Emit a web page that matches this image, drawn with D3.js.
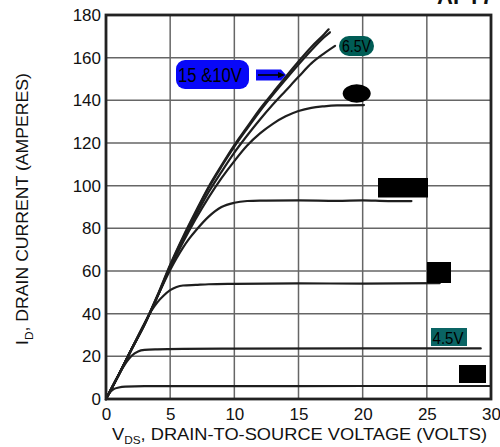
<!DOCTYPE html>
<html>
<head>
<meta charset="utf-8">
<script src="https://cdn.jsdelivr.net/npm/d3@7"></script>
<style>
  html, body { margin: 0; padding: 0; background: #fff; }
  svg { display: block; font-family: "Liberation Sans", Arial, Helvetica, sans-serif; }
</style>
</head>
<body>
<svg id="chart" width="500" height="447"></svg>
<script>
// ---- Data (V_DS in volts, I_D in amperes) ----
const xTicks = [0, 5, 10, 15, 20, 25, 30];
const yTicks = [0, 20, 40, 60, 80, 100, 120, 140, 160, 180];

const curve15V = [[0,0],[1,11.5],[2,23.5],[3,35],[4,48.5],[5,63],[6,76],[7,88],[8,99.5],[9,109.5],[10,119],[11,127.5],[12,136],[13,143.5],[14,151],[15,158.2],[16,165],[17,171],[17.35,173.3]];
const curve10V = [[0,0],[1,11.3],[2,23.2],[3,34.8],[4,48],[5,62.5],[6,75.5],[7,87.5],[8,99],[9,109],[10,118.3],[11,126.8],[12,135],[13,142.6],[14,149.8],[15,156.8],[16,163.5],[17,169.6],[17.45,171.9]];
const curve6p5V = [[0,0],[1,11.5],[2,23.5],[3,35],[4,48],[5,62],[6,74.5],[7,86],[8,97],[9,106.5],[10,115.5],[11,123.5],[12,131],[13,138],[14,144.5],[15,151],[16,157.3],[17,162],[17.85,165.5]];
const curve6V = [[0,0],[1,11.5],[2,23.5],[3,35],[4,48],[5,61.5],[6,73.5],[7,84.5],[8,94.5],[9,103.5],[10,111.5],[11,118.8],[12,124.5],[13,129],[14,132.5],[15,135],[16,136.5],[17,137.2],[18,137.6],[20.1,137.8]];
const curve5p5V = [[0,0],[1,11.5],[2,23.5],[3,35],[4,48],[5,60.5],[5.5,66],[6,71],[6.5,75.3],[7,79],[8,85.5],[9,90],[10,92],[11,92.8],[12,93],[15,93.1],[18,92.9],[20,93.1],[22,92.8],[23.8,92.8]];
const curve5V = [[0,0],[1,11.5],[2,23.5],[3,35.5],[3.5,41],[4,45.3],[4.5,48.5],[5,51],[5.5,52.5],[6,53.2],[7,53.5],[8,53.8],[10,54],[15,54.2],[20,54.1],[26,54.3]];
const curve4p5V = [[0,0],[0.5,6],[1,11.5],[1.5,16.5],[2,20.3],[2.5,22.3],[3,23],[4,23.3],[6,23.5],[10,23.6],[20,23.7],[29.2,23.7]];
const curve4V = [[0,0],[0.3,3],[0.6,4.6],[1,5.4],[1.5,5.8],[3,6],[10,6],[20,6.1],[30,6.1]];

const seriesList = [curve4V, curve4p5V, curve5V, curve5p5V, curve6V, curve6p5V, curve10V, curve15V];

// ---- Layout ----
const svg = d3.select("#chart");
const x = d3.scaleLinear().domain([0, 30]).range([106, 491]);
const y = d3.scaleLinear().domain([0, 180]).range([399, 15]);

// Grid
const grid = svg.append("g");
grid.selectAll("line.v").data(xTicks.slice(1, -1)).join("line")
  .attr("x1", d => x(d)).attr("x2", d => x(d))
  .attr("y1", y(0)).attr("y2", y(180))
  .attr("stroke", "#666").attr("stroke-width", 1.5);
grid.selectAll("line.h").data(yTicks.slice(1, -1)).join("line")
  .attr("x1", x(0)).attr("x2", x(30))
  .attr("y1", d => y(d)).attr("y2", d => y(d))
  .attr("stroke", "#666").attr("stroke-width", 1.5);

// Curves
const line = d3.line().x(d => x(d[0])).y(d => y(d[1])).curve(d3.curveMonotoneX);
svg.append("g").selectAll("path").data(seriesList).join("path")
  .attr("d", line)
  .attr("fill", "none")
  .attr("stroke", "#1e1e1e")
  .attr("stroke-width", 2.2)
  .attr("stroke-linecap", "round");

// Frame
svg.append("rect")
  .attr("x", x(0)).attr("y", y(180))
  .attr("width", x(30) - x(0)).attr("height", y(0) - y(180))
  .attr("fill", "none").attr("stroke", "#222").attr("stroke-width", 2.8);

// Axes (labels only)
const xAxis = svg.append("g").attr("transform", `translate(0,${y(0)})`)
  .call(d3.axisBottom(x).tickValues(xTicks).tickSize(0).tickPadding(9));
xAxis.select(".domain").remove();
xAxis.selectAll("text").attr("font-size", 17).attr("fill", "#111")
  .attr("font-family", "Liberation Sans, Arial, sans-serif");

const yAxis = svg.append("g").attr("transform", `translate(${x(0)},0)`)
  .call(d3.axisLeft(y).tickValues(yTicks).tickSize(0).tickPadding(5));
yAxis.select(".domain").remove();
yAxis.selectAll("text").attr("font-size", 17).attr("fill", "#111")
  .attr("font-family", "Liberation Sans, Arial, sans-serif");

// Axis titles
const xt = svg.append("text").attr("x", 112).attr("y", 440)
  .attr("font-size", 17).attr("fill", "#111")
  .attr("textLength", 375).attr("lengthAdjust", "spacingAndGlyphs");
xt.append("tspan").text("V");
xt.append("tspan").attr("font-size", 11).attr("dy", 4).text("DS");
xt.append("tspan").attr("dy", -4).text(", DRAIN-TO-SOURCE VOLTAGE (VOLTS)");

const yt = svg.append("text")
  .attr("transform", "translate(28,345) rotate(-90)")
  .attr("font-size", 17).attr("fill", "#111")
  .attr("textLength", 272).attr("lengthAdjust", "spacingAndGlyphs");
yt.append("tspan").text("I");
yt.append("tspan").attr("font-size", 11.5).attr("dy", 5).text("D");
yt.append("tspan").attr("dy", -5).text(", DRAIN CURRENT (AMPERES)");

// Clipped title at top right (as in the reference, only its lower edge shows)
svg.append("text").attr("x", 437).attr("y", 4)
  .attr("font-size", 22).attr("font-weight", "bold").attr("fill", "#111")
  .text("APT7");

// Annotations
// 15 & 10V label
svg.append("rect").attr("x", 176).attr("y", 60).attr("width", 73).attr("height", 29)
  .attr("rx", 9).attr("fill", "#0808f8");
svg.append("text").attr("x", 178).attr("y", 82).attr("font-size", 19.5).attr("fill", "#000")
  .attr("textLength", 64).attr("lengthAdjust", "spacingAndGlyphs").text("15 &10V");
// arrow box
svg.append("path").attr("d", "M256,69.5 L281,69.5 L286,75 L281,80.5 L256,80.5 Z").attr("fill", "#0808f8");
svg.append("line").attr("x1", 258).attr("y1", 75).attr("x2", 280).attr("y2", 75)
  .attr("stroke", "#000").attr("stroke-width", 1.6);
svg.append("path").attr("d", "M278,72 L285,75 L278,78 Z").attr("fill", "#000");

// 6.5V label
svg.append("rect").attr("x", 339).attr("y", 36).attr("width", 35).attr("height", 20)
  .attr("rx", 10).attr("fill", "#005c55");
svg.append("text").attr("x", 342).attr("y", 52).attr("font-size", 17).attr("fill", "#000")
  .attr("textLength", 29).attr("lengthAdjust", "spacingAndGlyphs").text("6.5V");

// black ellipse (6V)
svg.append("ellipse").attr("cx", 356.7).attr("cy", 93.5).attr("rx", 14).attr("ry", 9.3).attr("fill", "#000");
// black boxes
svg.append("rect").attr("x", 378).attr("y", 178).attr("width", 50).attr("height", 19.5).attr("fill", "#000");
svg.append("rect").attr("x", 427).attr("y", 262).attr("width", 24).attr("height", 21).attr("fill", "#000");
svg.append("rect").attr("x", 459).attr("y", 365).attr("width", 27).attr("height", 18).attr("fill", "#000");

// 4.5V label
svg.append("rect").attr("x", 431).attr("y", 328).attr("width", 36).attr("height", 18).attr("fill", "#0a6464");
svg.append("text").attr("x", 432.5).attr("y", 344).attr("font-size", 17).attr("fill", "#000")
  .attr("textLength", 31).attr("lengthAdjust", "spacingAndGlyphs").text("4.5V");
</script>
</body>
</html>
